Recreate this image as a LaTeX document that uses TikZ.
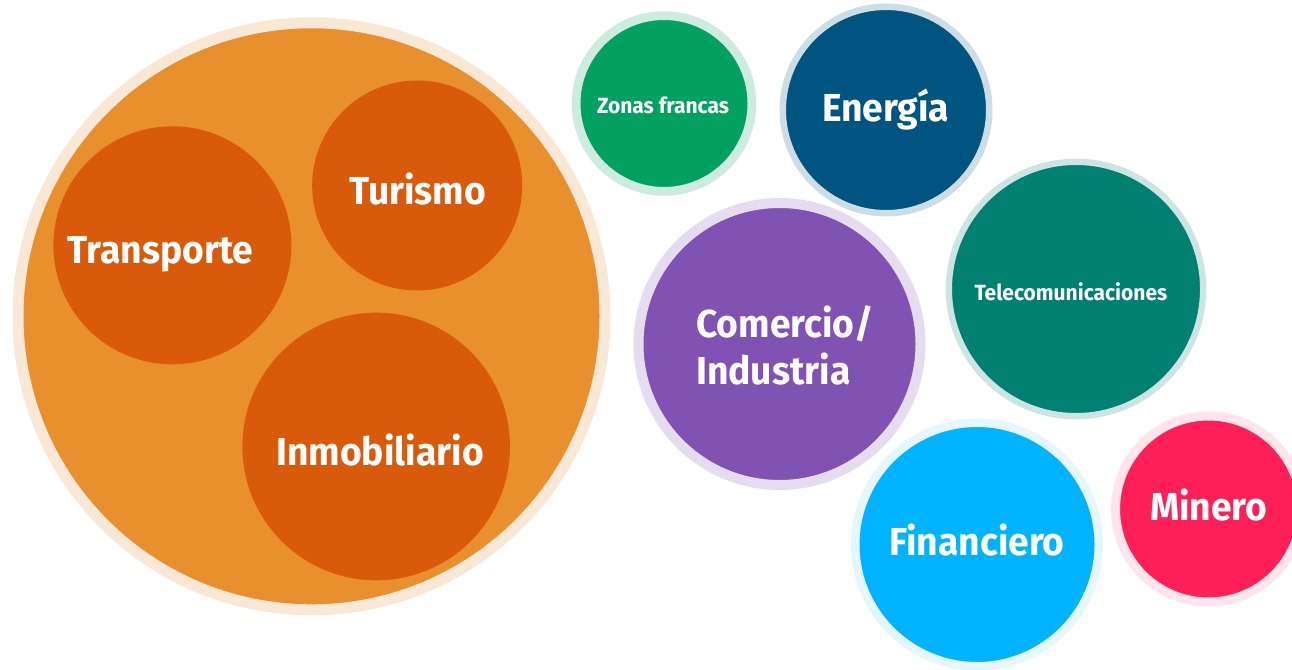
\documentclass[tikz,border=0pt]{standalone}
\usepackage{fontspec}
\newfontfamily\lblfont{Fira Sans}[FakeStretch=0.955]
\definecolor{bigorange}{HTML}{E88F2E}
\definecolor{bighalo}{HTML}{F9E8D6}
\definecolor{suborange}{HTML}{D95A0B}
\definecolor{zongreen}{HTML}{02A161}
\definecolor{zonhalo}{HTML}{CDEBDF}
\definecolor{enblue}{HTML}{005480}
\definecolor{enhalo}{HTML}{CCDDE6}
\definecolor{compurple}{HTML}{7F52B4}
\definecolor{comhalo}{HTML}{E5DDEF}
\definecolor{telteal}{HTML}{008070}
\definecolor{telhalo}{HTML}{CCE5E2}
\definecolor{fincyan}{HTML}{00B3FF}
\definecolor{finhalo}{HTML}{E5F6FF}
\definecolor{minred}{HTML}{FF1F57}
\definecolor{minhalo}{HTML}{FFE4EB}
\tikzset{
  bubble/.style={circle, inner sep=0pt},
  lbl/.style={text=white, font=\lblfont\bfseries\fontsize{39}{46}\selectfont, inner sep=0pt},
  lblsmall/.style={text=white, font=\lblfont\bfseries\fontsize{22}{26}\selectfont, inner sep=0pt},
}
\begin{document}
\begin{tikzpicture}[x=1pt,y=-1pt]
\useasboundingbox (0,0) rectangle (1292,669);
% big orange group
\node[bubble, fill=bigorange, draw=bighalo, line width=11pt, minimum size=587pt] (big) at (311.5,316.3) {};
\node[bubble, fill=suborange, minimum size=238pt] (trans) at (172.4,245.3) {};
\node[bubble, fill=suborange, minimum size=210pt] (tur) at (417.2,185.5) {};
\node[bubble, fill=suborange, minimum size=267.6pt] (inm) at (376.2,446.5) {};
% other bubbles
\node[bubble, fill=zongreen, draw=zonhalo, line width=8.8pt, minimum size=175.8pt] (zon) at (664,103.5) {};
\node[bubble, fill=enblue, draw=enhalo, line width=6.5pt, minimum size=206.5pt] (ene) at (886,110) {};
\node[bubble, fill=compurple, draw=comhalo, line width=10pt, minimum size=282pt] (com) at (779.5,344) {};
\node[bubble, fill=telteal, draw=telhalo, line width=6.3pt, minimum size=254.3pt] (tel) at (1076,289) {};
\node[bubble, fill=fincyan, draw=finhalo, line width=8.5pt, minimum size=243.5pt] (fin) at (977,544.5) {};
\node[bubble, fill=minred, draw=minhalo, line width=9pt, minimum size=186pt] (min) at (1208.5,509) {};
% labels
\node[lbl, anchor=base] (ltrans) at (160.6,263.6) {Transporte};
\node[lbl, anchor=base] (ltur) at (417.7,204.8) {Turismo};
\node[lbl, anchor=base] (linm) at (380,465.9) {Inmobiliario};
\node[lblsmall, anchor=base] (lzon) at (663,113.3) {Zonas francas};
\node[lbl, anchor=base] (lene) at (885.8,121.7) {Energía};
\node[lbl, anchor=base west] (lcom1) at (696,337.7) {Comercio/};
\node[lbl, anchor=base west] (lcom2) at (696,384) {Industria};
\node[lblsmall, anchor=base] (ltel) at (1070.9,300.7) {Telecomunicaciones};
\node[lbl, anchor=base] (lfin) at (977,555.6) {Financiero};
\node[lbl, anchor=base] (lmin) at (1208.7,520) {Minero};
\end{tikzpicture}
\end{document}
